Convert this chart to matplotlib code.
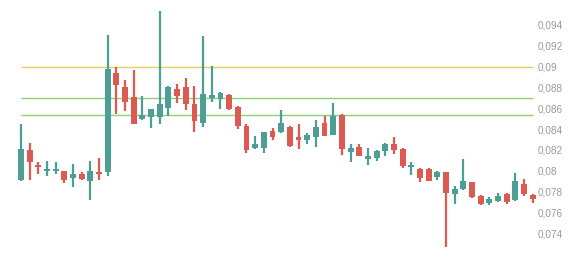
import matplotlib
matplotlib.use("Agg")
import matplotlib.pyplot as plt
from matplotlib.ticker import FixedLocator, FuncFormatter

opens = [0.0791, 0.0820, 0.0806, 0.0800, 0.0800, 0.0800, 0.0793, 0.0797, 0.0790, 0.0799,
         0.0799, 0.0894, 0.0880, 0.0871, 0.0850, 0.0852, 0.0852, 0.0860, 0.0879, 0.0880,
         0.0864, 0.0846, 0.0870, 0.0869, 0.0873, 0.0861, 0.0843, 0.0822, 0.0822, 0.0838,
         0.0837, 0.0842, 0.0832, 0.0830, 0.0832, 0.0846, 0.0834, 0.0854, 0.0818, 0.0823,
         0.0811, 0.0812, 0.0819, 0.0826, 0.0821, 0.0804, 0.0802, 0.0802, 0.0794, 0.0799,
         0.0778, 0.0783, 0.0789, 0.0776, 0.0769, 0.0771, 0.0778, 0.0772, 0.0787, 0.0777]
highs = [0.0845, 0.0827, 0.0808, 0.0809, 0.0808, 0.0800, 0.0807, 0.0799, 0.0809, 0.0812,
         0.0930, 0.0900, 0.0887, 0.0897, 0.0872, 0.0859, 0.0953, 0.0881, 0.0883, 0.0889,
         0.0881, 0.0929, 0.0901, 0.0876, 0.0874, 0.0862, 0.0845, 0.0833, 0.0837, 0.0841,
         0.0858, 0.0843, 0.0845, 0.0836, 0.0849, 0.0853, 0.0865, 0.0855, 0.0826, 0.0826,
         0.0822, 0.0820, 0.0827, 0.0832, 0.0822, 0.0808, 0.0803, 0.0803, 0.0800, 0.0799,
         0.0785, 0.0811, 0.0789, 0.0777, 0.0775, 0.0779, 0.0779, 0.0798, 0.0792, 0.0778]
lows = [0.0790, 0.0791, 0.0797, 0.0795, 0.0797, 0.0788, 0.0784, 0.0791, 0.0772, 0.0791,
        0.0795, 0.0855, 0.0857, 0.0845, 0.0849, 0.0841, 0.0845, 0.0853, 0.0865, 0.0858,
        0.0837, 0.0842, 0.0866, 0.0859, 0.0858, 0.0840, 0.0817, 0.0821, 0.0817, 0.0830,
        0.0836, 0.0823, 0.0821, 0.0826, 0.0823, 0.0833, 0.0834, 0.0815, 0.0808, 0.0814,
        0.0806, 0.0809, 0.0814, 0.0816, 0.0803, 0.0796, 0.0789, 0.0790, 0.0791, 0.0727,
        0.0768, 0.0782, 0.0774, 0.0767, 0.0767, 0.0770, 0.0768, 0.0771, 0.0776, 0.0769]
closes = [0.0821, 0.0808, 0.0804, 0.0802, 0.0802, 0.0791, 0.0797, 0.0792, 0.0800, 0.0797,
          0.0898, 0.0882, 0.0866, 0.0845, 0.0854, 0.0859, 0.0864, 0.0880, 0.0872, 0.0864,
          0.0848, 0.0874, 0.0873, 0.0875, 0.0859, 0.0843, 0.0820, 0.0826, 0.0837, 0.0832,
          0.0846, 0.0824, 0.0830, 0.0834, 0.0842, 0.0833, 0.0853, 0.0821, 0.0822, 0.0814,
          0.0814, 0.0819, 0.0826, 0.0820, 0.0805, 0.0805, 0.0793, 0.0790, 0.0799, 0.0779,
          0.0783, 0.0790, 0.0775, 0.0768, 0.0773, 0.0776, 0.0770, 0.0790, 0.0778, 0.0773]

level_values = [0.0900, 0.0870, 0.0854]
level_colors = ["#e8cf5a", "#8fd070", "#8fd070"]
tick_values = [0.074, 0.076, 0.078, 0.080, 0.082, 0.084, 0.086, 0.088, 0.090, 0.092, 0.094]

UP = "#4d9f95"
DOWN = "#dc5a52"

fig = plt.figure(figsize=(5.84, 2.58), dpi=100)
ax = fig.add_axes([0, 0, 536 / 584, 1])

n = len(opens)
for i in range(n):
    o, h, l, c = opens[i], highs[i], lows[i], closes[i]
    col = UP if c >= o else DOWN
    ax.vlines(i, l, h, color=col, linewidth=1.6, zorder=3)
    bottom = min(o, c)
    height = max(abs(c - o), 0.00012)
    ax.bar(i, height, bottom=bottom, width=0.68, color=col, linewidth=0, zorder=4)

for v, colr in zip(level_values, level_colors):
    ax.hlines(v, 0, n - 1, color=colr, linewidth=1.0, zorder=2)

ax.set_xlim(-2.42, n - 1 + 0.38)
ax.set_ylim(0.07163, 0.0964)

for s in ax.spines.values():
    s.set_visible(False)
ax.set_xticks([])
ax.yaxis.tick_right()
ax.yaxis.set_major_locator(FixedLocator(tick_values))
ax.yaxis.set_major_formatter(FuncFormatter(lambda v, p: ("%g" % round(v, 3)).replace(".", ",")))
ax.tick_params(axis="y", length=0, pad=1, labelsize=7.2, labelcolor="#9a9a9a")
for lab in ax.get_yticklabels():
    lab.set_fontfamily("Liberation Sans")

fig.savefig("out.png", dpi=100)
